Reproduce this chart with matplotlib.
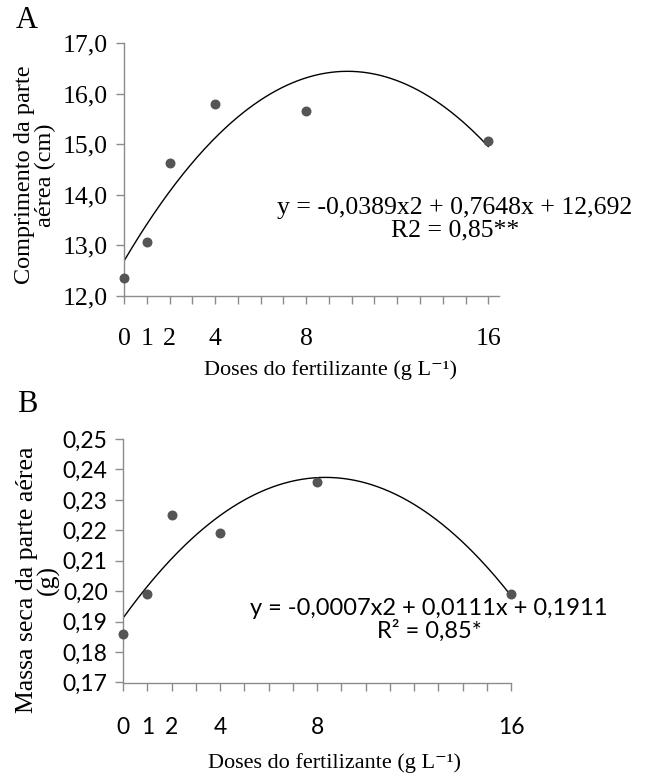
import numpy as np
import matplotlib.pyplot as plt

# doses do fertilizante (g L-1)
doses = [0, 1, 2, 4, 8, 16]
dose_ticks = list(range(17))
dose_labels = ['0', '1', '2', '', '4', '', '', '', '8', '', '', '', '', '', '', '', '16']

# A - comprimento da parte aerea (cm)
comprimento = [12.36, 13.07, 14.62, 15.79, 15.65, 15.07]
yticks_a = [12, 13, 14, 15, 16, 17]
ylabels_a = ['12,0', '13,0', '14,0', '15,0', '16,0', '17,0']
eq_a = 'y = -0,0389x2 + 0,7648x + 12,692\nR2 = 0,85**'

# B - massa seca da parte aerea (g)
massa = [0.186, 0.199, 0.225, 0.219, 0.236, 0.199]
yticks_b = [0.17, 0.18, 0.19, 0.20, 0.21, 0.22, 0.23, 0.24, 0.25]
ylabels_b = ['0,17', '0,18', '0,19', '0,20', '0,21', '0,22', '0,23', '0,24', '0,25']
eq_b = 'y = -0,0007x2 + 0,0111x + 0,1911\nR² = 0,85*'

xlabel = 'Doses do fertilizante (g L⁻¹)'

W, H = 648, 776
serif = ['Liberation Serif', 'DejaVu Serif']
sans = ['Lato', 'DejaVu Sans']

fig = plt.figure(figsize=(W / 100, H / 100), dpi=100)


def box(left, top, right, bottom):
    return [left / W, 1 - bottom / H, (right - left) / W, (bottom - top) / H]


def ftext(x, y, s, **kw):
    # position in pixels from the top-left corner
    return fig.text(x / W, 1 - y / H, s, ha='center', va='center', **kw)


def style_axes(ax, tick_font, tick_size, xpad, ypad):
    for s in ['top', 'right']:
        ax.spines[s].set_visible(False)
    for s in ['left', 'bottom']:
        ax.spines[s].set_color('#8c8c8c')
        ax.spines[s].set_linewidth(1.0)
    ax.tick_params(direction='out', length=6, width=1, color='#8c8c8c')
    ax.tick_params(axis='x', pad=xpad)
    ax.tick_params(axis='y', pad=ypad)
    ax.set_xticks(dose_ticks)
    ax.set_xticklabels(dose_labels, fontfamily=tick_font, fontsize=tick_size)
    for lab in ax.get_yticklabels():
        lab.set_fontfamily(tick_font)
        lab.set_fontsize(tick_size)


xs = np.linspace(0, 16, 200)

# ---- painel A
axA = fig.add_axes(box(124, 43, 499, 296))
fit_a = np.polyfit(doses, comprimento, 2)
axA.plot(xs, np.polyval(fit_a, xs), color='black', lw=1.0)
axA.scatter(doses, comprimento, s=38, color='#555555', zorder=3, clip_on=False)
axA.set_xlim(0, 16.47)
axA.set_ylim(12, 17)
axA.set_yticks(yticks_a)
axA.set_yticklabels(ylabels_a)
style_axes(axA, serif, 18.5, 17, 6)
ftext(455, 219, eq_a, fontfamily=serif, fontsize=18.5, linespacing=1.0)
ftext(330, 370, xlabel, fontfamily=serif, fontsize=16)
ftext(35, 175, 'Comprimento da parte\naérea (cm)', rotation=90,
      fontfamily=serif, fontsize=17.5, linespacing=1.0)
ftext(27, 21, 'A', fontfamily=serif, fontsize=22)

# ---- painel B
axB = fig.add_axes(box(123, 439, 511, 682.5))
fit_b = np.polyfit(doses, massa, 2)
axB.plot(xs, np.polyval(fit_b, xs), color='black', lw=1.0)
axB.scatter(doses, massa, s=38, color='#555555', zorder=3, clip_on=False)
axB.set_xlim(0, 16)
axB.set_ylim(0.17, 0.25)
axB.set_yticks(yticks_b)
axB.set_yticklabels(ylabels_b)
style_axes(axB, sans, 16.5, 19, 5)
ftext(429, 620, eq_b, fontfamily=sans, fontsize=17, linespacing=1.05)
ftext(335, 763, xlabel, fontfamily=serif, fontsize=16)
ftext(38, 580, 'Massa seca da parte aérea\n(g)', rotation=90,
      fontfamily=serif, fontsize=18.5, linespacing=0.95)
ftext(27, 404, 'B', fontfamily=serif, fontsize=22)

fig.savefig('out.png', dpi=100)
